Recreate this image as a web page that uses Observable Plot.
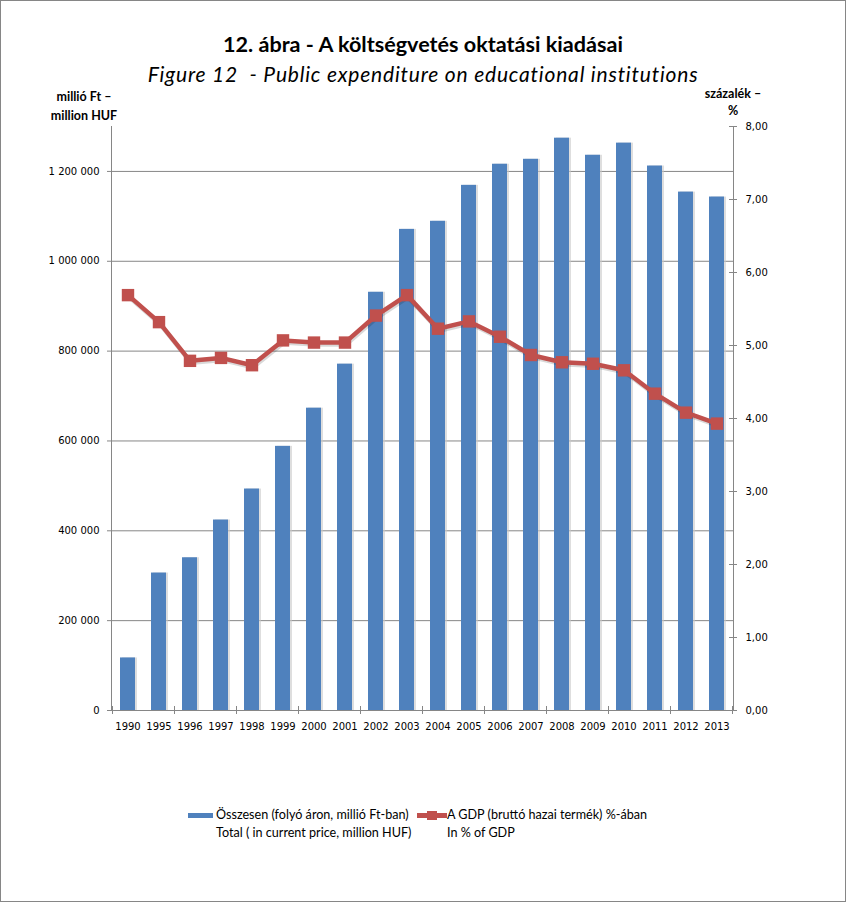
<!DOCTYPE html>
<html><head><meta charset="utf-8">
<script src="https://cdn.jsdelivr.net/npm/d3@7"></script>
<script src="https://cdn.jsdelivr.net/npm/@observablehq/plot@0.6"></script>
<style>
body{margin:0;background:#fff;}
#wrap{position:relative;width:846px;height:903px;overflow:hidden;background:#fff;}
#border{position:absolute;left:0;top:0;width:846px;height:902px;box-sizing:border-box;border:1px solid #868686;pointer-events:none;z-index:5}
.t{position:absolute;white-space:nowrap;font-family:Lato, sans-serif;color:#000;z-index:3}
</style></head><body>
<div id="wrap">
<div id="chart" style="position:absolute;left:0;top:0"></div>
<div class="t" style="left:0;width:846px;top:31px;text-align:center;font-weight:bold;font-size:21.6px;line-height:26px">12. ábra - A költségvetés oktatási kiadásai</div>
<div class="t" style="left:0;width:846px;top:61px;text-align:center;font-style:italic;font-size:21px;letter-spacing:0.8px;line-height:25px">Figure 12&nbsp; - Public expenditure on educational institutions</div>
<div class="t" style="left:34px;width:100px;top:87px;text-align:center;font-weight:bold;font-size:12.5px;line-height:19px">millió Ft –<br>million HUF</div>
<div class="t" style="left:683px;width:100px;top:85px;text-align:center;font-weight:bold;font-size:12.5px;line-height:17px">százalék –<br>%</div>
<div style="position:absolute;left:188px;top:813px;width:25px;height:5px;background:#4F81BD;z-index:3"></div>
<div class="t" style="left:216px;top:806px;font-size:12.6px;line-height:18px">Összesen (folyó áron, millió Ft-ban)<br>Total ( in current price, million HUF)</div>
<div style="position:absolute;left:417px;top:813px;width:30px;height:5px;background:#C0504D;z-index:3"></div>
<div style="position:absolute;left:427px;top:811px;width:10px;height:9px;background:#C0504D;z-index:3"></div>
<div class="t" style="left:447px;top:806px;font-size:12.6px;line-height:18px">A GDP (bruttó hazai termék) %-ában<br>In % of GDP</div>
<div id="border"></div>
</div>
<script>
const years = ["1990","1995","1996","1997","1998","1999","2000","2001","2002","2003","2004","2005","2006","2007","2008","2009","2010","2011","2012","2013"];
const totals = [117000, 306000, 340000, 424000, 493000, 588000, 673000, 771000, 931000, 1071000, 1089000, 1169000, 1216000, 1227000, 1274000, 1236000, 1263000, 1212000, 1154000, 1143000];
const gdpPct = [5.69, 5.32, 4.79, 4.83, 4.73, 5.07, 5.04, 5.04, 5.41, 5.69, 5.23, 5.33, 5.12, 4.87, 4.77, 4.75, 4.66, 4.34, 4.08, 3.93];
const leftTicks = [0, 200000, 400000, 600000, 800000, 1000000, 1200000];
const rightTicks = [0, 1, 2, 3, 4, 5, 6, 7, 8];
const leftMax = 1300000;
const rightMax = 8;
const ratio = leftMax / rightMax;

const data = years.map((year, i) => ({year, total: totals[i], pct: gdpPct[i]}));
const fmtLeft = d => d3.format(",")(d).replace(/,/g, " ");
const fmtRight = d => (d / ratio).toFixed(2).replace(".", ",");

function axisLines(index, scales, values, dims) {
  const x = scales.x, y = scales.y;
  const L = dims.marginLeft, R = dims.width - dims.marginRight;
  const T = dims.marginTop, B = dims.height - dims.marginBottom;
  const g = d3.create("svg:g").attr("stroke", "#868686").attr("fill", "none").attr("shape-rendering", "crispEdges");
  g.append("line").attr("x1", L).attr("x2", L).attr("y1", T).attr("y2", B);
  g.append("line").attr("x1", R).attr("x2", R).attr("y1", T).attr("y2", B);
  g.append("line").attr("x1", L).attr("x2", R).attr("y1", B).attr("y2", B);
  const bw = x.bandwidth ? x.bandwidth() : 0;
  const step = x(years[1]) - x(years[0]);
  const gap = (step - bw) / 2;
  const bounds = years.map(c => x(c) - gap).concat([x(years[years.length - 1]) + bw + gap]);
  bounds.forEach((bx, i) => {
    if (i % 2 === 0) g.append("line").attr("x1", bx).attr("x2", bx).attr("y1", B - 4).attr("y2", B + 4);
  });
  rightTicks.forEach(v => {
    const yy = y(v * ratio);
    g.append("line").attr("x1", R - 4).attr("x2", R + 4).attr("y1", yy).attr("y2", yy);
  });
  return g.node();
}

const chart = Plot.plot({
  width: 846,
  height: 760,
  marginLeft: 111,
  marginRight: 113,
  marginTop: 126,
  marginBottom: 50,
  style: {fontFamily: "'DejaVu Sans', sans-serif", fontSize: "10px", color: "#000", background: "transparent"},
  x: {type: "band", domain: years, paddingInner: 0.52, paddingOuter: 0.26},
  y: {domain: [0, leftMax]},
  marks: [
    Plot.gridY(leftTicks, {stroke: "#868686", strokeOpacity: 1}),
    Plot.barY(data, {x: "year", y: "total", fill: "#c8c8c8", fillOpacity: 0.6, dx: 2}),
    Plot.barY(data, {x: "year", y: "total", fill: "#4F81BD"}),
    axisLines,
    Plot.line(data, {x: "year", y: d => d.pct * ratio, stroke: "#000", strokeOpacity: 0.15, strokeWidth: 4.5, dx: 1, dy: 2}),
    Plot.line(data, {x: "year", y: d => d.pct * ratio, stroke: "#C0504D", strokeWidth: 4.5}),
    Plot.dot(data, {x: "year", y: d => d.pct * ratio, symbol: "square", fill: "#C0504D", r: 7}),
    Plot.axisY(leftTicks, {anchor: "left", tickSize: 4, tickPadding: 8, tickFormat: fmtLeft, stroke: "#868686", label: null}),
    Plot.axisY(rightTicks.map(v => v * ratio), {anchor: "right", tickSize: 0, tickPadding: 12, tickFormat: fmtRight, label: null}),
    Plot.axisX({tickSize: 0, tickPadding: 12, label: null})
  ]
});
document.getElementById("chart").appendChild(chart);
</script>
</body></html>
